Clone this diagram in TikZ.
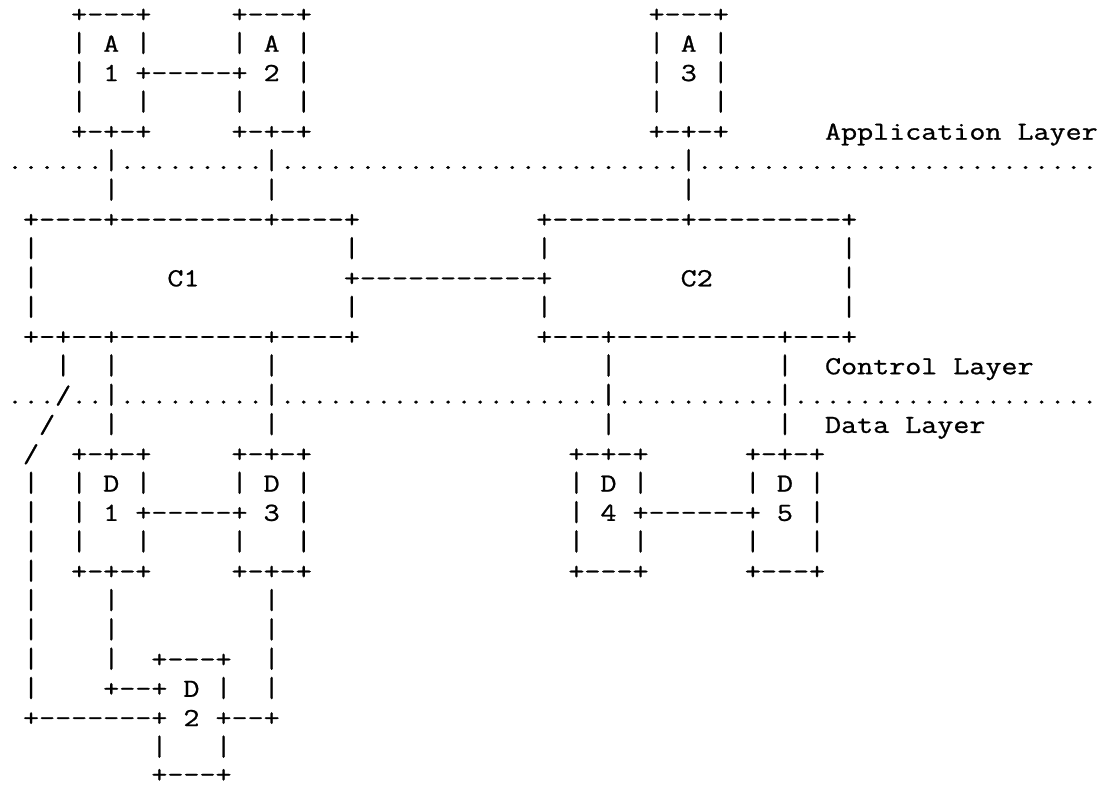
\documentclass[tikz,border=0pt]{standalone}
\usepackage{fontspec}
\usepackage{graphicx}
% typewriter face, widened and darkened a little to fill its cell
\newfontfamily\gridfont{Latin Modern Mono}[FakeStretch=1.2, FakeBold=0.9]
% fixed character cell: every glyph sits centred in a box of this width
\newlength\cellw
\setlength\cellw{16.04pt}
% vertical bars are drawn slightly taller so that stacked bars read as one line
\newcommand\barglyph{\scalebox{1}[1.1]{|}}
% typeset a run of characters one cell each; ~ stands for an empty cell
\def\cellsloop#1{%
  \ifx#1\relax
  \else
    \ifx#1~\makebox[\cellw]{}%
    \else\ifx#1|\makebox[\cellw][c]{\barglyph}%
    \else\makebox[\cellw][c]{#1}\fi\fi
    \expandafter\cellsloop
  \fi}
\newcommand\cells[1]{\cellsloop#1\relax}
\tikzset{
  cellrun/.style={anchor=base west, inner sep=0pt, outer sep=0pt,
    font=\gridfont\fontsize{26}{30}\selectfont, text=black}
}
\begin{document}
\begin{tikzpicture}[x=16.04pt, y=-29.32pt]
\useasboundingbox (-0.4364,-0.764) rectangle (68.392,26.01);
% application boxes
\node[cellrun] (r0a) at (4,0)  {\cells{+---+}};
\node[cellrun] (r0b) at (14,0) {\cells{+---+}};
\node[cellrun] (r0c) at (40,0) {\cells{+---+}};
\node[cellrun] (r1a) at (4,1)  {\cells{|~A~|}};
\node[cellrun] (r1b) at (14,1) {\cells{|~A~|}};
\node[cellrun] (r1c) at (40,1) {\cells{|~A~|}};
\node[cellrun] (r2a) at (4,2)  {\cells{|~1~+-----+~2~|}};
\node[cellrun] (r2b) at (40,2) {\cells{|~3~|}};
\node[cellrun] (r3a) at (4,3)  {\cells{|~~~|}};
\node[cellrun] (r3b) at (14,3) {\cells{|~~~|}};
\node[cellrun] (r3c) at (40,3) {\cells{|~~~|}};
\node[cellrun] (r4a) at (4,4)  {\cells{+-+-+}};
\node[cellrun] (r4b) at (14,4) {\cells{+-+-+}};
\node[cellrun] (r4c) at (40,4) {\cells{+-+-+}};
\node[cellrun] (r4d) at (51,4) {\cells{Application~Layer}};
% application / control boundary
\node[cellrun] (r5a) at (0,5)  {\cells{......|.........|.........................|.........................}};
\node[cellrun] (r6a) at (6,6)  {\cells{|}};
\node[cellrun] (r6b) at (16,6) {\cells{|}};
\node[cellrun] (r6c) at (42,6) {\cells{|}};
% controllers
\node[cellrun] (r7a) at (1,7)  {\cells{+----+---------+----+}};
\node[cellrun] (r7b) at (33,7) {\cells{+--------+---------+}};
\node[cellrun] (r8a) at (1,8)  {\cells{|}};
\node[cellrun] (r8b) at (21,8) {\cells{|}};
\node[cellrun] (r8c) at (33,8) {\cells{|}};
\node[cellrun] (r8d) at (52,8) {\cells{|}};
\node[cellrun] (r9a) at (1,9)  {\cells{|}};
\node[cellrun] (r9b) at (10,9) {\cells{C1}};
\node[cellrun] (r9c) at (21,9) {\cells{+-----------+}};
\node[cellrun] (r9d) at (42,9) {\cells{C2}};
\node[cellrun] (r9e) at (52,9) {\cells{|}};
\node[cellrun] (r10a) at (1,10)  {\cells{|}};
\node[cellrun] (r10b) at (21,10) {\cells{|}};
\node[cellrun] (r10c) at (33,10) {\cells{|}};
\node[cellrun] (r10d) at (52,10) {\cells{|}};
\node[cellrun] (r11a) at (1,11)  {\cells{+-+--+---------+----+}};
\node[cellrun] (r11b) at (33,11) {\cells{+---+----------+---+}};
\node[cellrun] (r12a) at (3,12)  {\cells{|}};
\node[cellrun] (r12b) at (6,12)  {\cells{|}};
\node[cellrun] (r12c) at (16,12) {\cells{|}};
\node[cellrun] (r12d) at (37,12) {\cells{|}};
\node[cellrun] (r12e) at (48,12) {\cells{|}};
\node[cellrun] (r12f) at (51,12) {\cells{Control~Layer}};
% control / data boundary
\node[cellrun] (r13a) at (0,13) {\cells{.../..|.........|....................|..........|...................}};
\node[cellrun] (r14a) at (2,14)  {\cells{/}};
\node[cellrun] (r14b) at (6,14)  {\cells{|}};
\node[cellrun] (r14c) at (16,14) {\cells{|}};
\node[cellrun] (r14d) at (37,14) {\cells{|}};
\node[cellrun] (r14e) at (48,14) {\cells{|}};
\node[cellrun] (r14f) at (51,14) {\cells{Data~Layer}};
% data plane devices
\node[cellrun] (r15a) at (1,15)  {\cells{/}};
\node[cellrun] (r15b) at (4,15)  {\cells{+-+-+}};
\node[cellrun] (r15c) at (14,15) {\cells{+-+-+}};
\node[cellrun] (r15d) at (35,15) {\cells{+-+-+}};
\node[cellrun] (r15e) at (46,15) {\cells{+-+-+}};
\node[cellrun] (r16a) at (1,16)  {\cells{|}};
\node[cellrun] (r16b) at (4,16)  {\cells{|~D~|}};
\node[cellrun] (r16c) at (14,16) {\cells{|~D~|}};
\node[cellrun] (r16d) at (35,16) {\cells{|~D~|}};
\node[cellrun] (r16e) at (46,16) {\cells{|~D~|}};
\node[cellrun] (r17a) at (1,17)  {\cells{|}};
\node[cellrun] (r17b) at (4,17)  {\cells{|~1~+-----+~3~|}};
\node[cellrun] (r17c) at (35,17) {\cells{|~4~+------+~5~|}};
\node[cellrun] (r18a) at (1,18)  {\cells{|}};
\node[cellrun] (r18b) at (4,18)  {\cells{|~~~|}};
\node[cellrun] (r18c) at (14,18) {\cells{|~~~|}};
\node[cellrun] (r18d) at (35,18) {\cells{|~~~|}};
\node[cellrun] (r18e) at (46,18) {\cells{|~~~|}};
\node[cellrun] (r19a) at (1,19)  {\cells{|}};
\node[cellrun] (r19b) at (4,19)  {\cells{+-+-+}};
\node[cellrun] (r19c) at (14,19) {\cells{+-+-+}};
\node[cellrun] (r19d) at (35,19) {\cells{+---+}};
\node[cellrun] (r19e) at (46,19) {\cells{+---+}};
\node[cellrun] (r20a) at (1,20)  {\cells{|}};
\node[cellrun] (r20b) at (6,20)  {\cells{|}};
\node[cellrun] (r20c) at (16,20) {\cells{|}};
\node[cellrun] (r21a) at (1,21)  {\cells{|}};
\node[cellrun] (r21b) at (6,21)  {\cells{|}};
\node[cellrun] (r21c) at (16,21) {\cells{|}};
\node[cellrun] (r22a) at (1,22)  {\cells{|}};
\node[cellrun] (r22b) at (6,22)  {\cells{|}};
\node[cellrun] (r22c) at (9,22)  {\cells{+---+}};
\node[cellrun] (r22d) at (16,22) {\cells{|}};
\node[cellrun] (r23a) at (1,23)  {\cells{|}};
\node[cellrun] (r23b) at (6,23)  {\cells{+--+~D~|}};
\node[cellrun] (r23c) at (16,23) {\cells{|}};
\node[cellrun] (r24a) at (1,24)  {\cells{+-------+~2~+--+}};
\node[cellrun] (r25a) at (9,25)  {\cells{|~~~|}};
\node[cellrun, text depth=0pt] (r26a) at (9,25.93)  {\cells{+---+}};
\end{tikzpicture}
\end{document}
